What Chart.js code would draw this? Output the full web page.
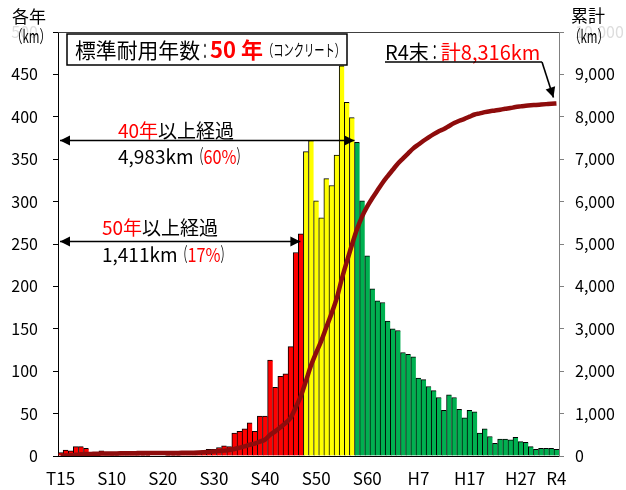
<!DOCTYPE html>
<html lang="ja">
<head>
<meta charset="utf-8">
<title>布設年度別 管路延長</title>
<script src="https://cdn.jsdelivr.net/npm/chart.js@4.4.1/dist/chart.umd.min.js"></script>
<style>
    html, body { margin: 0; padding: 0; background: #fff; }
    #wrap { position: relative; width: 626px; height: 490px; }
</style>
</head>
<body>
<div id="wrap"><canvas id="pipeChart" width="626" height="490"></canvas></div>
<script>
// Construction year of each bar (first bar = oldest group, shown as T15 on the axis)
const years = [
    1925, 1926, 1927, 1928, 1929, 1930, 1931, 1932, 1933, 1934,
    1935, 1936, 1937, 1938, 1939, 1940, 1941, 1942, 1943, 1944,
    1945, 1946, 1947, 1948, 1949, 1950, 1951, 1952, 1953, 1954,
    1955, 1956, 1957, 1958, 1959, 1960, 1961, 1962, 1963, 1964,
    1965, 1966, 1967, 1968, 1969, 1970, 1971, 1972, 1973, 1974,
    1975, 1976, 1977, 1978, 1979, 1980, 1981, 1982, 1983, 1984,
    1985, 1986, 1987, 1988, 1989, 1990, 1991, 1992, 1993, 1994,
    1995, 1996, 1997, 1998, 1999, 2000, 2001, 2002, 2003, 2004,
    2005, 2006, 2007, 2008, 2009, 2010, 2011, 2012, 2013, 2014,
    2015, 2016, 2017, 2018, 2019, 2020, 2021, 2022
];

// 各年 (km)
const annualKm = [
    4, 7, 6, 11, 11, 9, 2, 1, 6, 2,
    1, 1, 2, 2, 2, 1, 1, 1, 0, 0,
    0, 1, 1, 1, 2, 2, 2, 4, 6, 8,
    8, 10, 12, 11, 27, 29, 32, 39, 29, 47,
    47, 113, 81, 94, 97, 129, 240, 262, 359, 372,
    301, 281, 327, 319, 355, 460, 417, 399, 370, 301,
    236, 197, 183, 181, 159, 150, 148, 122, 120, 117,
    92, 90, 82, 77, 69, 54, 72, 69, 55, 45,
    54, 52, 27, 32, 23, 15, 20, 20, 19, 22,
    17, 16, 11, 8, 9, 9, 9, 8
];

// 累計 (km)
const cumulativeKm = [
    4, 11, 17, 28, 39, 48, 50, 51, 57, 59,
    60, 61, 63, 65, 67, 68, 69, 70, 70, 70,
    70, 71, 72, 73, 75, 77, 79, 83, 89, 97,
    105, 115, 127, 138, 165, 194, 226, 265, 294, 341,
    388, 501, 582, 676, 773, 902, 1146, 1411, 1768, 2138,
    2437, 2716, 3041, 3358, 3711, 4169, 4584, 4983, 5352, 5652,
    5887, 6083, 6265, 6445, 6603, 6752, 6899, 7020, 7139, 7255,
    7346, 7435, 7516, 7592, 7660, 7713, 7784, 7852, 7906, 7950,
    8003, 8054, 8080, 8111, 8133, 8148, 8168, 8188, 8207, 8229,
    8246, 8262, 8273, 8281, 8290, 8299, 8308, 8316
];

// x axis tick labels
const tickYears = [1925, 1935, 1945, 1955, 1965, 1975, 1985, 1995, 2005, 2015, 2022];
const tickText = ['T15', 'S10', 'S20', 'S30', 'S40', 'S50', 'S60', 'H7', 'H17', 'H27', 'R4'];

// 50年 / 40年以上経過 boundaries (as of R4)
const OVER50_LAST_YEAR = 1972;
const OVER40_LAST_YEAR = 1982;

const FONT = '"Noto Sans CJK JP", "Noto Sans", sans-serif';
const RED = '#ff0000';
const YELLOW = '#ffff00';
const GREEN = '#00b050';
const LINE_COLOR = '#8e0c0c';

const barColors = years.map(y => y <= OVER50_LAST_YEAR ? RED : (y <= OVER40_LAST_YEAR ? YELLOW : GREEN));

/**
 * Draw a run of text pieces side by side
 * each piece: [text, color, font, maxWidth]
 */
function drawRich(ctx, x, y, parts) {
    let cx = x;
    ctx.textAlign = 'left';
    ctx.textBaseline = 'middle';
    parts.forEach(([text, color, font, maxW]) => {
        ctx.font = font;
        ctx.fillStyle = color;
        const w = ctx.measureText(text).width;
        if (maxW && w > maxW) {
            ctx.fillText(text, cx, y, maxW);
            cx += maxW;
        } else {
            ctx.fillText(text, cx, y);
            cx += w;
        }
    });
}

function arrowHead(ctx, x1, y1, x2, y2, len, half) {
    const a = Math.atan2(y2 - y1, x2 - x1);
    const bx = x2 - len * Math.cos(a);
    const by = y2 - len * Math.sin(a);
    ctx.beginPath();
    ctx.moveTo(x2, y2);
    ctx.lineTo(bx + half * Math.sin(a), by - half * Math.cos(a));
    ctx.lineTo(bx - half * Math.sin(a), by + half * Math.cos(a));
    ctx.closePath();
    ctx.fill();
}

function arrow(ctx, x1, y1, x2, y2, both) {
    ctx.save();
    ctx.strokeStyle = '#000';
    ctx.fillStyle = '#000';
    ctx.lineWidth = 1.6;
    ctx.beginPath();
    ctx.moveTo(x1, y1);
    ctx.lineTo(x2, y2);
    ctx.stroke();
    arrowHead(ctx, x1, y1, x2, y2, 10, 5);
    if (both) arrowHead(ctx, x2, y2, x1, y1, 10, 5);
    ctx.restore();
}

// Annotations: frame, legend box, arrows and axis titles
const annotationPlugin = {
    id: 'annotations',
    afterDatasetsDraw(chart) {
        const { ctx, chartArea: area, scales } = chart;
        const xs = scales.x;
        const yL = scales.yAnnual;
        const yR = scales.yTotal;
        const half = (xs.getPixelForValue(1) - xs.getPixelForValue(0)) / 2;

        ctx.save();

        // top edge of plot frame
        ctx.strokeStyle = '#404040';
        ctx.lineWidth = 1;
        ctx.beginPath();
        ctx.moveTo(area.left, area.top + 0.5);
        ctx.lineTo(area.right, area.top + 0.5);
        ctx.stroke();

        // 標準耐用年数 box
        ctx.fillStyle = '#fff';
        ctx.fillRect(67, 34, 280, 31);
        ctx.strokeStyle = '#000';
        ctx.lineWidth = 1.5;
        ctx.strokeRect(67, 34, 280, 31);
        drawRich(ctx, 75, 50, [
            ['標準耐用年数', '#000', '21px ' + FONT, 125],
            ['：', '#000', '21px ' + FONT, 10],
            ['50', RED, 'bold 22px ' + FONT],
            [' 年', RED, 'bold 22px ' + FONT],
            ['（コンクリート）', '#000', '16px ' + FONT, 82]
        ]);

        // 40年以上経過
        const i40 = years.indexOf(OVER40_LAST_YEAR);
        const y40 = yL.getPixelForValue(372);
        arrow(ctx, area.left + 2, y40, xs.getPixelForValue(i40) + half, y40, true);
        drawRich(ctx, 118, 131, [
            ['40年', RED, '19px ' + FONT],
            ['以上経過', '#000', '19px ' + FONT]
        ]);
        drawRich(ctx, 118, 157, [
            ['4,983km', '#000', '19px ' + FONT],
            ['（', '#000', '19px ' + FONT, 10],
            ['60%', RED, '19px ' + FONT, 33],
            ['）', '#000', '19px ' + FONT, 10]
        ]);

        // 50年以上経過
        const i50 = years.indexOf(OVER50_LAST_YEAR);
        const y50 = yL.getPixelForValue(253);
        arrow(ctx, area.left + 2, y50, xs.getPixelForValue(i50) + half - 3, y50, true);
        drawRich(ctx, 102, 228, [
            ['50年', RED, '19px ' + FONT],
            ['以上経過', '#000', '19px ' + FONT]
        ]);
        drawRich(ctx, 102, 255, [
            ['1,411km', '#000', '19px ' + FONT],
            ['（', '#000', '19px ' + FONT, 10],
            ['17%', RED, '19px ' + FONT, 33],
            ['）', '#000', '19px ' + FONT, 10]
        ]);

        // R4末 total
        drawRich(ctx, 385, 52, [
            ['R4末', '#000', '20px ' + FONT],
            ['：', '#000', '20px ' + FONT, 12],
            ['計8,316km', RED, '20px ' + FONT]
        ]);
        ctx.strokeStyle = '#000';
        ctx.lineWidth = 1.5;
        ctx.beginPath();
        ctx.moveTo(385, 62);
        ctx.lineTo(542, 62);
        ctx.stroke();
        const last = cumulativeKm.length - 1;
        arrow(ctx, 542, 62, xs.getPixelForValue(last) - 3, yR.getPixelForValue(cumulativeKm[last]) - 6, false);

        // axis titles
        drawRich(ctx, 12, 17, [['各年', '#000', '17px ' + FONT]]);
        drawRich(ctx, 11, 37, [['（km）', '#000', '17px ' + FONT, 40]]);
        drawRich(ctx, 571, 16, [['累計', '#000', '17px ' + FONT]]);
        drawRich(ctx, 569, 37, [['（km）', '#000', '17px ' + FONT, 40]]);

        ctx.restore();
    }
};

const ctx = document.getElementById('pipeChart').getContext('2d');
const chart = new Chart(ctx, {
    type: 'bar',
    data: {
        labels: years,
        datasets: [
            {
                type: 'line',
                label: '累計',
                data: cumulativeKm,
                yAxisID: 'yTotal',
                borderColor: LINE_COLOR,
                borderWidth: 4.5,
                pointRadius: 0,
                cubicInterpolationMode: 'monotone',
                fill: false,
                order: 0
            },
            {
                type: 'bar',
                label: '各年',
                data: annualKm,
                yAxisID: 'yAnnual',
                backgroundColor: barColors,
                borderColor: '#000',
                borderWidth: { top: 1, left: 1, right: 0, bottom: 0 },
                borderSkipped: false,
                barPercentage: 1,
                categoryPercentage: 1,
                order: 1
            }
        ]
    },
    options: {
        responsive: false,
        animation: false,
        layout: { padding: { top: 32, left: 0, right: 0, bottom: 0 } },
        plugins: {
            legend: { display: false },
            tooltip: { enabled: false }
        },
        scales: {
            x: {
                grid: { display: true, drawOnChartArea: false, drawTicks: false },
                border: { display: true, color: '#000', width: 1 },
                ticks: {
                    autoSkip: false,
                    maxRotation: 0,
                    minRotation: 0,
                    padding: 12,
                    color: '#000',
                    font: { family: FONT, size: 17 },
                    callback: (value, index) => {
                        const k = tickYears.indexOf(years[index]);
                        return k >= 0 ? tickText[k] : '';
                    }
                },
                afterFit: scale => { scale.height = 34; }
            },
            yAnnual: {
                position: 'left',
                min: 0,
                max: 500,
                ticks: {
                    stepSize: 50,
                    padding: 15,
                    color: c => (c.tick && c.tick.value === 500) ? '#dddddd' : '#000',
                    font: { family: FONT, size: 16 }
                },
                grid: { drawOnChartArea: false, drawTicks: true, tickLength: 5, color: '#000' },
                border: { display: true, color: '#000', width: 1 },
                afterFit: scale => { scale.width = 58; }
            },
            yTotal: {
                position: 'right',
                min: 0,
                max: 10000,
                ticks: {
                    stepSize: 1000,
                    padding: 11,
                    color: c => (c.tick && c.tick.value === 10000) ? '#dddddd' : '#000',
                    font: { family: FONT, size: 16 },
                    callback: v => v.toLocaleString('en-US')
                },
                grid: { drawOnChartArea: false, drawTicks: true, tickLength: 5, color: '#808080' },
                border: { display: true, color: '#808080', width: 1 },
                afterFit: scale => { scale.width = 67; }
            }
        }
    },
    plugins: [annotationPlugin]
});
</script>
</body>
</html>
